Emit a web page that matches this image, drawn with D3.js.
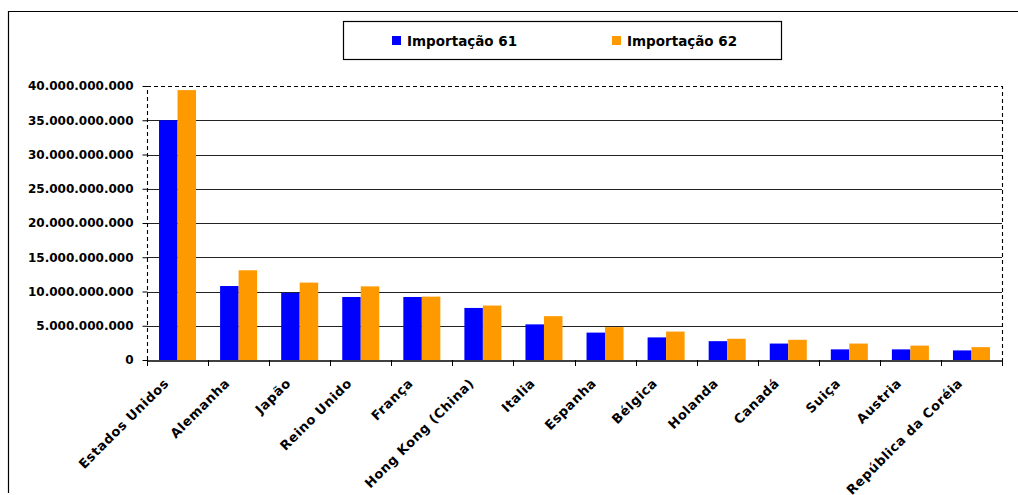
<!DOCTYPE html>
<html>
<head>
<meta charset="utf-8">
<script src="https://cdn.jsdelivr.net/npm/d3@7"></script>
<style>
  html, body { margin: 0; padding: 0; background: #fff; }
  svg { display: block; }
  text { font-family: "DejaVu Sans", "Liberation Sans", Arial, sans-serif; font-weight: bold; fill: #000; }
</style>
</head>
<body>
<svg id="chart" width="1018" height="495"></svg>
<script>
// Countries and import values (US$) for the two periods
const categories = ["Estados Unidos", "Alemanha", "Japão", "Reino Unido", "França",
  "Hong Kong (China)", "Italia", "Espanha", "Bélgica", "Holanda", "Canadá",
  "Suiça", "Austria", "República da Coréia"];
const importacao61 = [35.0e9, 10.8e9, 9.8e9, 9.2e9, 9.2e9, 7.6e9, 5.2e9, 4.0e9,
  3.3e9, 2.75e9, 2.4e9, 1.55e9, 1.55e9, 1.4e9];
const importacao62 = [39.4e9, 13.1e9, 11.3e9, 10.75e9, 9.25e9, 7.95e9, 6.4e9, 4.8e9,
  4.15e9, 3.1e9, 2.95e9, 2.4e9, 2.1e9, 1.88e9];
const seriesNames = ["Importação 61", "Importação 62"];
const seriesColors = ["#0000FF", "#FF9900"];
const yTicks = [0, 5e9, 10e9, 15e9, 20e9, 25e9, 30e9, 35e9, 40e9];

const svg = d3.select("#chart");
const plot = { left: 147, right: 1002, top: 86, bottom: 360 };

// Outer chart frame (left and top edges visible)
svg.append("path")
  .attr("d", "M8.5,493 L8.5,11.5 L1018,11.5")
  .attr("fill", "none").attr("stroke", "#000").attr("stroke-width", 1.2);

const x = d3.scaleBand().domain(categories).range([plot.left, plot.right]).paddingInner(0).paddingOuter(0);
const y = d3.scaleLinear().domain([0, 40e9]).range([plot.bottom, plot.top]);
const inner = d3.scaleBand().domain(seriesNames).range([0, x.bandwidth()]).paddingInner(0).paddingOuter(0.65);

// Format with dots as thousands separators
const fmt = d => d3.format(",")(d).replace(/,/g, ".");

// Horizontal gridlines
svg.append("g").selectAll("line")
  .data(yTicks.filter(t => t > 0 && t < 40e9))
  .join("line")
  .attr("x1", plot.left).attr("x2", plot.right)
  .attr("y1", d => Math.round(y(d)) + 0.5).attr("y2", d => Math.round(y(d)) + 0.5)
  .attr("stroke", "#222").attr("stroke-width", 1.1);

// Dashed plot-area border (top, right, left)
svg.append("path")
  .attr("d", `M${plot.left + 0.5},${plot.bottom} L${plot.left + 0.5},${Math.round(y(40e9)) + 0.5} L${plot.right + 0.5},${Math.round(y(40e9)) + 0.5} L${plot.right + 0.5},${plot.bottom}`)
  .attr("fill", "none").attr("stroke", "#000").attr("stroke-width", 1.1)
  .attr("stroke-dasharray", "4,3");

// Bars
const rows = categories.map((c, i) => ({ c, vals: [importacao61[i], importacao62[i]] }));
const groups = svg.append("g").selectAll("g")
  .data(rows).join("g")
  .attr("transform", d => `translate(${x(d.c)},0)`);
groups.selectAll("rect")
  .data(d => d.vals.map((v, k) => ({ v, k })))
  .join("rect")
  .attr("x", d => inner(seriesNames[d.k]))
  .attr("width", inner.bandwidth())
  .attr("y", d => y(d.v))
  .attr("height", d => y(0) - y(d.v))
  .attr("fill", d => seriesColors[d.k]);

// Y axis
const yAxis = svg.append("g")
  .attr("transform", `translate(${plot.left + 0.5},0)`)
  .call(d3.axisLeft(y).tickValues(yTicks).tickFormat(fmt).tickSize(5).tickPadding(8));
yAxis.select(".domain").remove();
yAxis.selectAll(".tick line").attr("stroke", "#000");
yAxis.selectAll("text")
  .style("font-size", "12px")
  .attr("dx", "-1px");

// X axis
const xAxis = svg.append("g")
  .attr("transform", `translate(0,${plot.bottom + 0.5})`)
  .call(d3.axisBottom(x).tickSize(0).tickFormat(""));
xAxis.select(".domain").attr("stroke", "#000").attr("stroke-width", 1.3);
// tick marks at band boundaries
svg.append("g").selectAll("line")
  .data(categories.map(c => x(c)).concat([plot.right]))
  .join("line")
  .attr("x1", d => Math.round(d) + 0.5).attr("x2", d => Math.round(d) + 0.5)
  .attr("y1", plot.bottom).attr("y2", plot.bottom + 6)
  .attr("stroke", "#000");

// Rotated category labels
svg.append("g").selectAll("text")
  .data(categories).join("text")
  .attr("transform", d => `translate(${x(d) + x.bandwidth() / 2 - 8},${plot.bottom + 24}) rotate(-45)`)
  .attr("text-anchor", "end")
  .style("font-size", "13px").style("letter-spacing", "0.6px")
  .text(d => d);

// Legend
const legend = svg.append("g");
legend.append("rect")
  .attr("x", 343.5).attr("y", 21.5).attr("width", 438).attr("height", 38)
  .attr("fill", "#fff").attr("stroke", "#000").attr("stroke-width", 1.2);
const legendX = [392, 612];
seriesNames.forEach((name, k) => {
  legend.append("rect")
    .attr("x", legendX[k]).attr("y", 36).attr("width", 9).attr("height", 9)
    .attr("fill", seriesColors[k]);
  legend.append("text")
    .attr("x", legendX[k] + 15).attr("y", 45.5)
    .style("font-size", "13.5px")
    .text(name);
});
</script>
</body>
</html>
